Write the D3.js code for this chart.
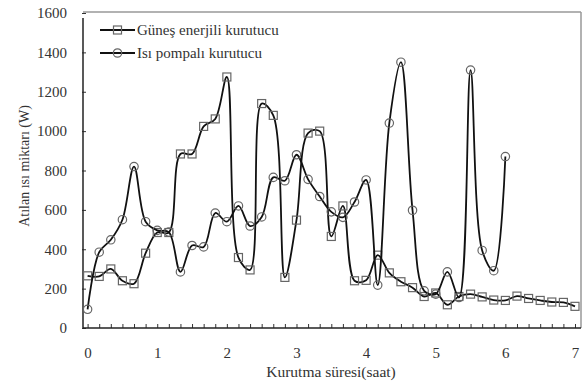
<!DOCTYPE html>
<html>
<head>
<meta charset="utf-8">
<script src="https://cdn.jsdelivr.net/npm/d3@7"></script>
<style>
html,body{margin:0;padding:0;background:#fff;}
svg{display:block;}
svg text{font-family:"Liberation Serif","DejaVu Serif",serif;}
</style>
</head>
<body>
<svg id="chart" width="584" height="385"></svg>
<script>
const seriesNames = ["Güneş enerjili kurutucu", "Isı pompalı kurutucu"];
const timeStepHours = 1/6;
const gunesValues = [265,262,300,240,225,380,485,485,884,884,1024,1062,1275,358,295,1140,1080,257,548,990,1000,465,620,240,242,370,280,235,205,160,178,118,160,172,158,142,140,162,150,140,132,130,110];
const isiPompaValues = [95,385,448,550,820,540,496,487,285,419,412,584,540,620,518,564,765,748,880,755,668,590,562,640,752,218,1041,1350,598,189,172,285,155,1310,394,291,871];
const xTicks = [0,1,2,3,4,5,6,7];
const yTicks = [0,200,400,600,800,1000,1200,1400,1600];
const xTitle = "Kurutma süresi(saat)";
const yTitle = "Atılan ısı miktarı (W)";

const FONT = "Liberation Serif";
const svg = d3.select("#chart");
const frame = {left:83, right:581, top:12, bottom:328};
const x = d3.scaleLinear().domain([0,7]).range([87.6,575]);
const y = d3.scaleLinear().domain([0,1600]).range([328,13]);

// frame
svg.append("line").attr("x1",frame.left).attr("x2",frame.right).attr("y1",frame.top).attr("y2",frame.top).attr("stroke","#999").attr("stroke-width",1.5);
svg.append("line").attr("x1",frame.right).attr("x2",frame.right).attr("y1",frame.top).attr("y2",frame.bottom).attr("stroke","#999").attr("stroke-width",1.5);

// x axis minor ticks
const minorTicks = d3.range(0, 43).map(i => i*timeStepHours);
const xAxis = d3.axisBottom(x).tickValues(minorTicks).tickSize(-4).tickFormat("");
const gx = svg.append("g").attr("transform",`translate(0,${frame.bottom})`).call(xAxis);
gx.select(".domain").remove();
gx.selectAll(".tick line").attr("stroke","#333");
// x labels
const xLab = d3.axisBottom(x).tickValues(xTicks).tickSize(0).tickPadding(19).tickFormat(d3.format("d"));
const gxl = svg.append("g").attr("transform",`translate(0,${frame.bottom})`).call(xLab);
gxl.attr("font-family",FONT);
gxl.select(".domain").remove();
gxl.selectAll("text").attr("font-family",FONT).attr("font-size",15).attr("fill","#333");

// y axis
const yAxis = d3.axisLeft(y).tickValues(yTicks).tickSize(-4).tickPadding(17).tickFormat(d3.format("d"));
const gy = svg.append("g").attr("transform",`translate(${frame.left+1},0)`).call(yAxis);
gy.attr("font-family",FONT);
gy.select(".domain").remove();
gy.selectAll(".tick line").attr("stroke","#333").attr("transform","translate(-2,0)");
gy.selectAll("text").attr("font-family",FONT).attr("font-size",15).attr("fill","#333");

svg.append("line").attr("x1",frame.left).attr("x2",frame.left).attr("y1",frame.top+6).attr("y2",frame.bottom).attr("stroke","#222").attr("stroke-width",1.5);
svg.append("line").attr("x1",frame.left).attr("x2",frame.right).attr("y1",frame.bottom).attr("y2",frame.bottom).attr("stroke","#222").attr("stroke-width",1.5);

// titles
svg.append("text").attr("x",331).attr("y",377).attr("text-anchor","middle").attr("font-family",FONT).attr("font-size",15.5).attr("fill","#333").text(xTitle);
svg.append("text").attr("transform","translate(29,166) rotate(-90)").attr("text-anchor","middle").attr("font-family",FONT).attr("font-size",14).attr("fill","#333").text(yTitle);

const line = d3.line().x((d,i)=>x(i*timeStepHours)).y(d=>y(d)).curve(d3.curveCatmullRom.alpha(0.5));

function drawSeries(vals, shape){
  svg.append("path").datum(vals).attr("d",line).attr("fill","none").attr("stroke","#111").attr("stroke-width",1.8);
  const g = svg.append("g");
  vals.forEach((v,i)=>{
    const cx = x(i*timeStepHours), cy = y(v);
    if(shape==="square"){
      g.append("rect").attr("x",cx-4).attr("y",cy-4).attr("width",8).attr("height",8).attr("fill","none").attr("stroke","#666").attr("stroke-width",1.2);
    } else {
      g.append("circle").attr("cx",cx).attr("cy",cy).attr("r",4.2).attr("fill","none").attr("stroke","#666").attr("stroke-width",1.2);
    }
  });
}
drawSeries(gunesValues,"square");
drawSeries(isiPompaValues,"circle");

// legend
const legend = [{name:seriesNames[0],shape:"square",yy:30},{name:seriesNames[1],shape:"circle",yy:53}];
legend.forEach(l=>{
  svg.append("line").attr("x1",100).attr("x2",135).attr("y1",l.yy).attr("y2",l.yy).attr("stroke","#111").attr("stroke-width",1.8);
  if(l.shape==="square") svg.append("rect").attr("x",113.5).attr("y",l.yy-4).attr("width",8).attr("height",8).attr("fill","none").attr("stroke","#666").attr("stroke-width",1.2);
  else svg.append("circle").attr("cx",117.5).attr("cy",l.yy).attr("r",4.2).attr("fill","none").attr("stroke","#666").attr("stroke-width",1.2);
  svg.append("text").attr("x",137).attr("y",l.yy+4.5).attr("font-family",FONT).attr("font-size",15).attr("fill","#333").text(l.name);
});
</script>
</body>
</html>
